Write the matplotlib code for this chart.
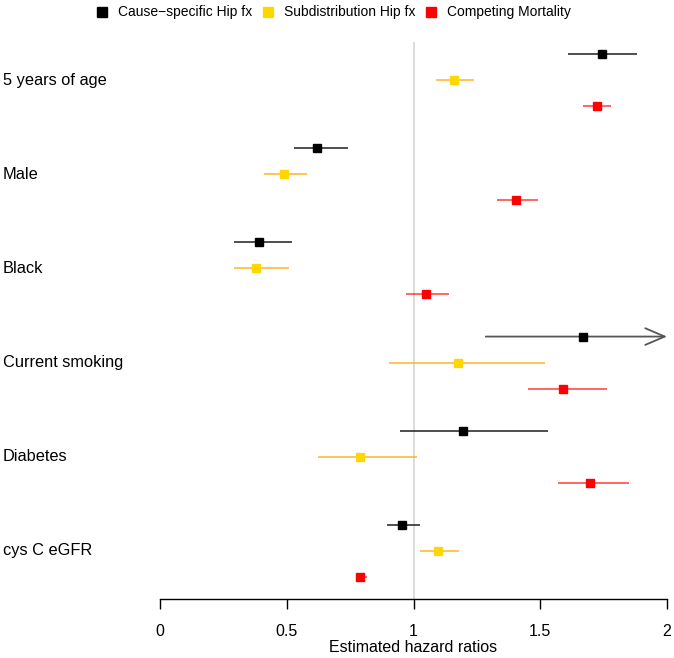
import numpy as np
import matplotlib.pyplot as plt

plt.rcParams['font.family'] = ['Liberation Sans', 'DejaVu Sans']

# --- The data: hazard ratios with lower / upper limits ---
labels = ['5 years of age', 'Male', 'Black', 'Current smoking', 'Diabetes', 'cys C eGFR']

cs_hr = [1.745, 0.62, 0.39, 1.67, 1.195, 0.955]
cs_lo = [1.61, 0.53, 0.29, 1.285, 0.945, 0.895]
cs_hi = [1.88, 0.74, 0.52, 2.35, 1.53, 1.025]

sd_hr = [1.16, 0.49, 0.38, 1.175, 0.79, 1.095]
sd_lo = [1.09, 0.41, 0.29, 0.905, 0.625, 1.025]
sd_hi = [1.24, 0.58, 0.51, 1.52, 1.015, 1.18]

cm_hr = [1.725, 1.405, 1.05, 1.59, 1.695, 0.79]
cm_lo = [1.67, 1.33, 0.97, 1.45, 1.57, 0.775]
cm_hi = [1.78, 1.49, 1.14, 1.765, 1.85, 0.815]

series_names = ['Cause\u2212specific Hip fx', 'Subdistribution Hip fx', 'Competing Mortality']

x_max = 2.0

fig = plt.figure(figsize=(6.74, 6.58), dpi=100)
ax = fig.add_axes([160 / 674, 59 / 658, 507 / 674, 557 / 658])

# reference line at HR = 1
ax.axvline(1, color='#d9d9d9', lw=1.3, zorder=0)

groups = np.arange(len(labels))
offset = 0.276

series = [
    (cs_hr, cs_lo, cs_hi, -offset, 'black', 'black', 0.75),
    (sd_hr, sd_lo, sd_hi, 0.0, '#FFD700', '#FFA500', 0.7),
    (cm_hr, cm_lo, cm_hi, offset, 'red', 'red', 0.65),
]

for hr, lo, hi, off, mcol, lcol, alpha in series:
    ys = groups + off
    for i in range(len(hr)):
        if hi[i] > x_max:
            # interval runs off the chart: draw an arrow to the edge
            ax.annotate('', xy=(x_max, ys[i]), xytext=(lo[i], ys[i]),
                        arrowprops=dict(arrowstyle='->,head_length=1.4,head_width=0.6',
                                        color='#555555', lw=1.3, shrinkA=0, shrinkB=0),
                        annotation_clip=False)
        else:
            ax.plot([lo[i], hi[i]], [ys[i], ys[i]], color=lcol, alpha=alpha,
                    lw=1.3, solid_capstyle='butt')
    ax.plot(hr, ys, 's', color=mcol, ms=5.4, zorder=3, clip_on=False)

ax.set_xlim(0, x_max)
ax.set_ylim(5.51, -0.403)

# R-style axes: only the bottom axis line with ticks
for side in ['top', 'right', 'left']:
    ax.spines[side].set_visible(False)
ax.spines['bottom'].set_linewidth(1.0)
ax.set_xticks([0, 0.5, 1, 1.5, 2])
ax.set_xticklabels(['0', '0.5', '1', '1.5', '2'])
ax.tick_params(axis='x', length=7, width=1.0, labelsize=11.5, pad=11)
ax.set_yticks([])
ax.set_xlabel('Estimated hazard ratios', fontsize=11.5, labelpad=1)

# row labels on the left
for i, lab in enumerate(labels):
    fig.text(3 / 674, 1 - (80 + i * 94.2) / 658, lab, fontsize=11.8,
             ha='left', va='center')

# legend across the top
legend_x = [102, 268, 431]
legend_cols = ['black', '#FFD700', 'red']
for lx, lc, name in zip(legend_x, legend_cols, series_names):
    fig.patches.append(plt.Rectangle(((lx - 5) / 674, 1 - 17 / 658), 10 / 674, 10 / 658,
                                     color=lc, transform=fig.transFigure, figure=fig))
    fig.text((lx + 16) / 674, 1 - 12 / 658, name, fontsize=10, ha='left', va='center')

fig.savefig('out.png', dpi=100)
